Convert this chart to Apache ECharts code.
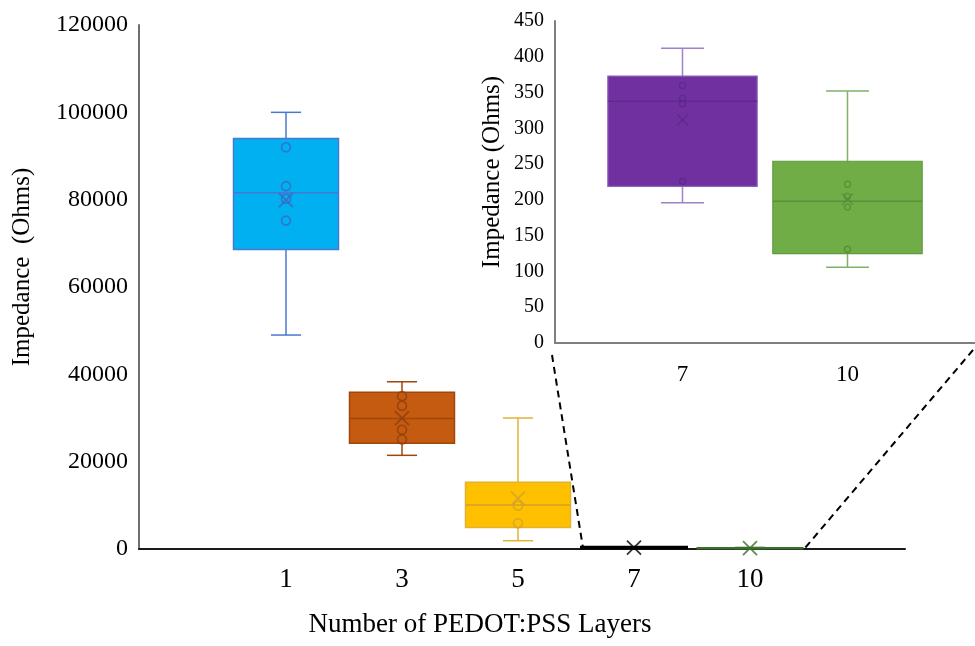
<!DOCTYPE html>
<html>
<head>
<meta charset="utf-8">
<script src="https://cdn.jsdelivr.net/npm/echarts@6/dist/echarts.min.js"></script>
<style>
html,body{margin:0;padding:0;background:#fff;}
#chart{width:975px;height:646px;}
</style>
</head>
<body>
<div id="chart"></div>
<script>
// ---- data ----
const categories = ['1', '3', '5', '7', '10'];
const insetCategories = ['7', '10'];
// [min, Q1, median, Q3, max]
const boxStats = [
  [49000, 68600, 81600, 94000, 100000],
  [21450, 24200, 29900, 35900, 38300],
  [1900, 4900, 10080, 15300, 30000],
  [196, 219, 338, 373, 412],
  [106, 125, 198, 254, 352]
];
const means = [79900, 29950, 11600, 312, 201];
const innerPoints = [
  [92000, 83100, 80200, 75200],
  [35000, 32800, 27300, 25100],
  [9900, 5900],
  [360, 342, 334, 226],
  [222, 205, 190, 131]
];
const mainYTicks = { min: 0, max: 120000, interval: 20000 };
const insetYTicks = { min: 0, max: 450, interval: 50 };

// ---- styles ----
const FONT = 'Liberation Serif';
const mainStyles = [
  { fill: '#00B0F0', border: '#4A78D0', whisker: '#4A78D0', median: '#4A78D0', lw: 1.5 },
  { fill: '#C55A11', border: '#9E470D', whisker: '#9E470D', median: '#9E470D', lw: 1.5 },
  { fill: '#FFC000', border: '#E2B232', whisker: '#E2B232', median: '#D2A22A', lw: 1.5 },
  { fill: '#000000', border: '#000000', whisker: '#000000', median: '#000000', lw: 3 },
  { fill: '#3C6E2C', border: '#3C6E2C', whisker: '#3C6E2C', median: '#3C6E2C', lw: 2 }
];
const insetStyles = [
  { fill: '#7030A0', border: '#8A60B8', whisker: '#A080C8', median: '#5E2A8C', lw: 1.2 },
  { fill: '#70AD47', border: '#5E9A3C', whisker: '#80B068', median: '#5A8F3A', lw: 1.2 }
];
const mainPointColors = ['#3F66C0', '#8E400C', '#D2A22A', '#000000', '#3C6E2C'];
const insetPointColors = ['#5A2888', '#548A36'];
const CROSS = 'path://M0,0L10,10M10,0L0,10';

function makeRender(styles) {
  return function (params, api) {
    const x = api.value(0);
    const v = [1, 2, 3, 4, 5].map(k => api.value(k));
    const band = api.size([1, 0])[0];
    const cx = api.coord([x, v[2]])[0];
    const y = v.map(val => api.coord([x, val])[1]);
    const st = styles[params.dataIndex];
    const bw = band * 0.905, cw = band * 0.26;
    const ln = (x1, y1, x2, y2, c, w) => ({ type: 'line', shape: { x1, y1, x2, y2 }, style: { stroke: c, lineWidth: w } });
    return {
      type: 'group',
      children: [
        ln(cx, y[4], cx, y[3], st.whisker, 1.5),
        ln(cx - cw / 2, y[4], cx + cw / 2, y[4], st.whisker, 1.5),
        ln(cx, y[1], cx, y[0], st.whisker, 1.5),
        ln(cx - cw / 2, y[0], cx + cw / 2, y[0], st.whisker, 1.5),
        { type: 'rect', shape: { x: cx - bw / 2, y: y[3], width: bw, height: y[1] - y[3] },
          style: { fill: st.fill, stroke: st.border, lineWidth: st.lw } },
        ln(cx - bw / 2, y[2], cx + bw / 2, y[2], st.median, 1.5)
      ]
    };
  };
}

const mainBoxData = categories.map((c, i) => [i].concat(boxStats[i]));
const insetBoxData = insetCategories.map((c, j) => [j].concat(boxStats[categories.indexOf(c)]));

const mainPointData = [];
[0, 1, 2].forEach(i => innerPoints[i].forEach(v => mainPointData.push({
  value: [i, v], itemStyle: { color: 'none', borderColor: mainPointColors[i], borderWidth: 1.6 }
})));
const mainMeanData = categories.map((c, i) => ({
  value: [i, means[i]], itemStyle: { color: 'none', borderColor: mainPointColors[i], borderWidth: 1.8 }
}));
const insetPointData = [];
insetCategories.forEach((c, j) => innerPoints[categories.indexOf(c)].forEach(v => insetPointData.push({
  value: [j, v], itemStyle: { color: 'none', borderColor: insetPointColors[j], borderWidth: 1.3 }
})));
const insetMeanData = insetCategories.map((c, j) => ({
  value: [j, means[categories.indexOf(c)]], itemStyle: { color: 'none', borderColor: insetPointColors[j], borderWidth: 1.4 }
}));

const plain = v => String(v);
const chart = echarts.init(document.getElementById('chart'), null, { renderer: 'canvas' });
chart.setOption({
  backgroundColor: '#ffffff',
  animation: false,
  grid: [
    { left: 139, right: 70, top: 25, bottom: 97 },
    { left: 228, width: 580, top: 25, bottom: 97 },
    { left: 555, right: 0, top: 21, bottom: 303 },
    { left: 600, width: 330, top: 21, bottom: 303 }
  ],
  xAxis: [
    { type: 'value', gridIndex: 0, min: 0, max: 1,
      axisLine: { show: true, onZero: false, lineStyle: { color: '#1a1a1a', width: 2 } },
      axisTick: { show: false }, axisLabel: { show: false }, splitLine: { show: false } },
    { type: 'category', gridIndex: 1, data: categories,
      axisLine: { show: false }, axisTick: { show: false },
      axisLabel: { fontFamily: FONT, fontSize: 27, color: '#000', margin: 17 },
      name: 'Number of PEDOT:PSS Layers', nameLocation: 'middle', nameGap: 62,
      nameTextStyle: { fontFamily: FONT, fontSize: 27, color: '#000', padding: [0, 76, 0, 0] } },
    { type: 'value', gridIndex: 2, min: 0, max: 1,
      axisLine: { show: true, onZero: false, lineStyle: { color: '#7f7f7f', width: 2 } },
      axisTick: { show: false }, axisLabel: { show: false }, splitLine: { show: false } },
    { type: 'category', gridIndex: 3, data: insetCategories,
      axisLine: { show: false }, axisTick: { show: false },
      axisLabel: { fontFamily: FONT, fontSize: 23, color: '#000', margin: 20 } }
  ],
  yAxis: [
    { type: 'value', gridIndex: 0, min: mainYTicks.min, max: mainYTicks.max, interval: mainYTicks.interval,
      axisLine: { show: true, lineStyle: { color: '#6f6f6f', width: 2 } },
      axisTick: { show: false }, splitLine: { show: false },
      axisLabel: { fontFamily: FONT, fontSize: 24, color: '#000', margin: 11, formatter: plain },
      name: 'Impedance  (Ohms)', nameLocation: 'middle', nameGap: 104,
      nameTextStyle: { fontFamily: FONT, fontSize: 25, color: '#000', padding: [0, 0, 0, 40] } },
    { type: 'value', gridIndex: 1, min: mainYTicks.min, max: mainYTicks.max, show: false },
    { type: 'value', gridIndex: 2, min: insetYTicks.min, max: insetYTicks.max, interval: insetYTicks.interval,
      axisLine: { show: true, lineStyle: { color: '#7f7f7f', width: 2 } },
      axisTick: { show: false }, splitLine: { show: false },
      axisLabel: { fontFamily: FONT, fontSize: 20, color: '#000', margin: 11, formatter: plain },
      name: 'Impedance (Ohms)', nameLocation: 'middle', nameGap: 50,
      nameTextStyle: { fontFamily: FONT, fontSize: 25, color: '#000', padding: [0, 0, 0, 20] } },
    { type: 'value', gridIndex: 3, min: insetYTicks.min, max: insetYTicks.max, show: false }
  ],
  series: [
    { type: 'custom', xAxisIndex: 1, yAxisIndex: 1, renderItem: makeRender(mainStyles), data: mainBoxData, z: 2 },
    { type: 'scatter', xAxisIndex: 1, yAxisIndex: 1, symbol: 'circle', symbolSize: 9, data: mainPointData, z: 3 },
    { type: 'scatter', xAxisIndex: 1, yAxisIndex: 1, symbol: CROSS, symbolSize: 14, data: mainMeanData, z: 3 },
    { type: 'custom', xAxisIndex: 3, yAxisIndex: 3, renderItem: makeRender(insetStyles), data: insetBoxData, z: 2 },
    { type: 'scatter', xAxisIndex: 3, yAxisIndex: 3, symbol: 'circle', symbolSize: 6, data: insetPointData, z: 3 },
    { type: 'scatter', xAxisIndex: 3, yAxisIndex: 3, symbol: CROSS, symbolSize: 11, data: insetMeanData, z: 3 }
  ],
  graphic: [
    { type: 'line', shape: { x1: 552, y1: 355, x2: 583, y2: 548 }, style: { stroke: '#000', lineWidth: 2, lineDash: [7, 5] }, z: 10 },
    { type: 'line', shape: { x1: 973, y1: 350, x2: 805, y2: 548 }, style: { stroke: '#000', lineWidth: 2, lineDash: [7, 5] }, z: 10 }
  ]
});
</script>
</body>
</html>
